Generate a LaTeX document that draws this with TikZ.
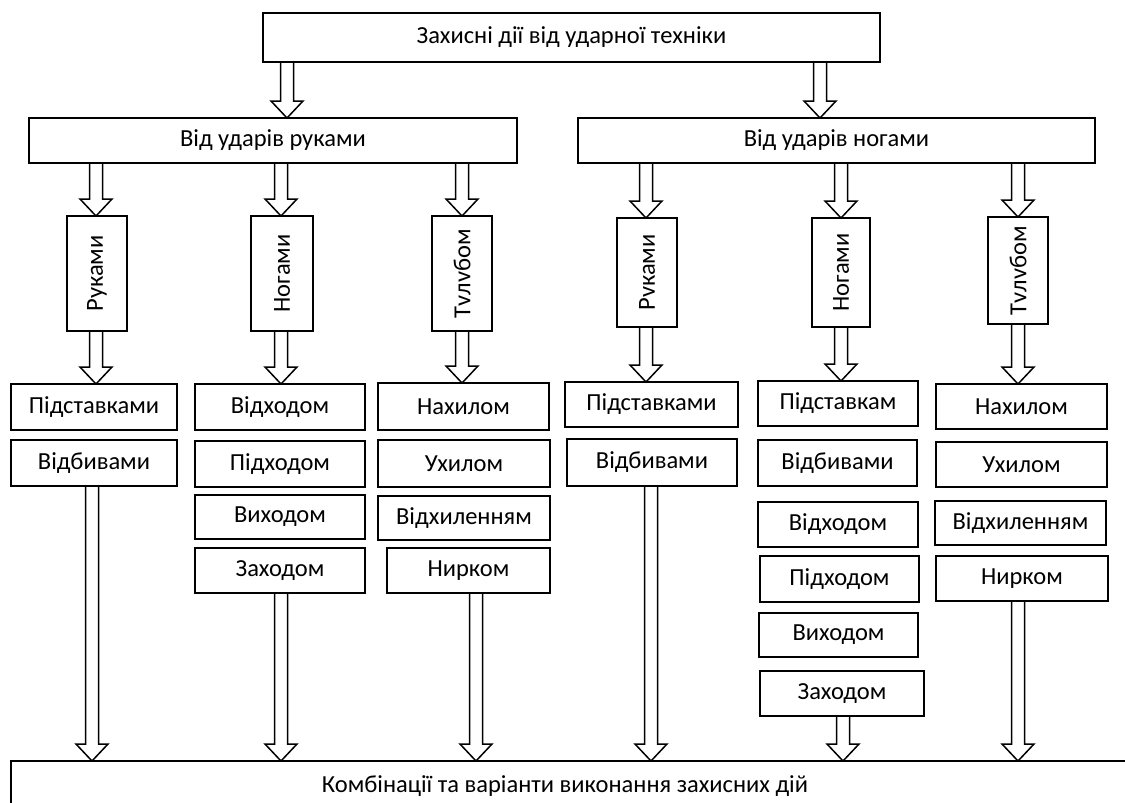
\documentclass[tikz,border=0pt]{standalone}
\usepackage{fontspec}
\setmainfont{Carlito}
\usepackage{graphicx}
\usetikzlibrary{calc}
\begin{document}
\begin{tikzpicture}[x=1pt,y=-1pt,
  box/.style={draw=black, line width=1.5pt, fill=white, inner sep=0pt, outer sep=0pt, align=center,
    font=\fontsize{24.5}{28}\selectfont},
  lbl/.style={inner sep=0pt, font=\fontsize{24.5}{28}\selectfont},
  barrow/.style={draw=black, line width=1.5pt, line join=miter,
    to path={let \p1=(\tikztostart), \p2=(\tikztotarget) in
      (\x1-6.5pt,\y1) -- (\x1-6.5pt,\y2+17pt) -- (\x1-16pt,\y2+17pt) -- (\x1,\y2)
      -- (\x1+16pt,\y2+17pt) -- (\x1+6.5pt,\y2+17pt) -- (\x1+6.5pt,\y1)}}]
\newcommand\bx[6]{\node[box, minimum width={(#4-#2)*1pt}, minimum height={(#5-#3)*1pt}] (#1) at ({(#2+#4)/2},{(#3+#5)/2}) {#6};}
\useasboundingbox (0,0) rectangle (1125,803);
% top levels
\bx{top}{263}{13}{880}{62}{Захисні дії від ударної техніки}
\bx{L}{29}{118}{517}{163}{Від ударів руками}
\bx{R}{578}{118}{1095}{163}{Від ударів ногами}
% vertical boxes
\bx{LA}{67}{216}{127}{331}{\rotatebox{90}{Руками}}
\bx{LB}{251}{216}{313}{331}{\rotatebox{90}{Ногами}}
\bx{LC}{432}{216}{492}{331}{\rotatebox{90}{Тvлvбом}}
\bx{RA}{617}{218}{677}{327}{\rotatebox{90}{Рvками}}
\bx{RB}{812}{218}{870}{327}{\rotatebox{90}{Ногами}}
\bx{RC}{988}{217}{1048}{324}{\rotatebox{90}{Тvлvбом}}
% column 1
\bx{c1a}{11}{384}{177}{430}{Підставками}
\bx{c1b}{11}{440}{177}{486}{Відбивами}
% column 2
\bx{c2a}{195}{384}{365}{430}{Відходом}
\bx{c2b}{195}{441}{365}{487}{Підходом}
\bx{c2c}{195}{495}{365}{539}{Виходом}
\bx{c2d}{195}{548}{365}{593}{Заходом}
% column 3
\bx{c3a}{378}{383}{549}{430}{Нахилом}
\bx{c3b}{378}{440}{550}{487}{Ухилом}
\bx{c3c}{378}{496}{550}{540}{Відхиленням}
\bx{c3d}{387}{548}{550}{593}{Нирком}
% column 4
\bx{c4a}{565}{382}{738}{427}{Підставками}
\bx{c4b}{567}{439}{737}{486}{Відбивами}
% column 5
\bx{c5a}{758}{381}{918}{426}{Підставкам}
\bx{c5b}{758}{440}{917}{486}{Відбивами}
\bx{c5c}{758}{502}{918}{547}{Відходом}
\bx{c5d}{760}{556}{919}{602}{Підходом}
\bx{c5e}{759}{613}{918}{657}{Виходом}
\bx{c5f}{760}{671}{924}{716}{Заходом}
% column 6
\bx{c6a}{936}{384}{1107}{429}{Нахилом}
\bx{c6b}{936}{442}{1107}{487}{Ухилом}
\bx{c6c}{935}{501}{1106}{545}{Відхиленням}
\bx{c6d}{936}{556}{1108}{601}{Нирком}
% bottom
\bx{bot}{11}{761}{1140}{820}{}
\node[lbl] (botlbl) at (565,786) {Комбінації та варіанти виконання захисних дій};
% x positions of arrows
\foreach \n/\v in {a1/287,a2/820,p1/96,p2/281,p3/462,p4/646,p5/841,p6/1018,q1/92,q2/281,q3/476,q4/651,q5/843,q6/1018}
  \coordinate (\n) at (\v,0);
% arrows
\draw[barrow] (top.south -| a1) to (L.north -| a1);
\draw[barrow] (top.south -| a2) to (R.north -| a2);
\draw[barrow] (L.south -| p1) to (LA.north -| p1);
\draw[barrow] (L.south -| p2) to (LB.north -| p2);
\draw[barrow] (L.south -| p3) to (LC.north -| p3);
\draw[barrow] (R.south -| p4) to (RA.north -| p4);
\draw[barrow] (R.south -| p5) to (RB.north -| p5);
\draw[barrow] (R.south -| p6) to (RC.north -| p6);
\draw[barrow] (LA.south -| p1) to (c1a.north -| p1);
\draw[barrow] (LB.south -| p2) to (c2a.north -| p2);
\draw[barrow] (LC.south -| p3) to (c3a.north -| p3);
\draw[barrow] (RA.south -| p4) to (c4a.north -| p4);
\draw[barrow] (RB.south -| p5) to (c5a.north -| p5);
\draw[barrow] (RC.south -| p6) to (c6a.north -| p6);
\draw[barrow] (c1b.south -| q1) to (bot.north -| q1);
\draw[barrow] (c2d.south -| q2) to (bot.north -| q2);
\draw[barrow] (c3d.south -| q3) to (bot.north -| q3);
\draw[barrow] (c4b.south -| q4) to (bot.north -| q4);
\draw[barrow] (c5f.south -| q5) to (bot.north -| q5);
\draw[barrow] (c6d.south -| q6) to (bot.north -| q6);
\end{tikzpicture}
\end{document}
